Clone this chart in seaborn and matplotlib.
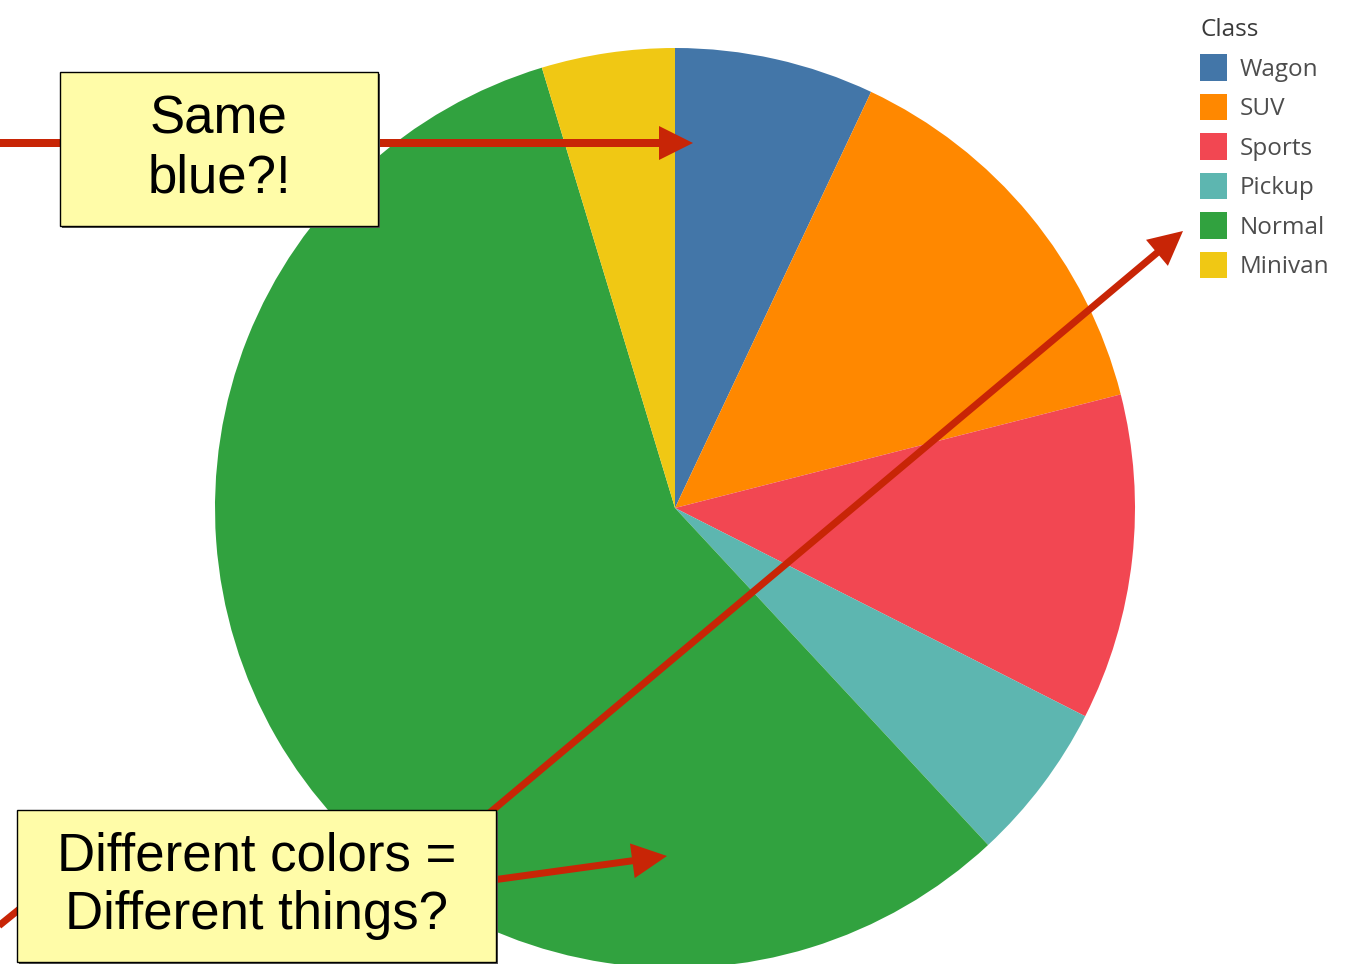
import matplotlib
matplotlib.use("Agg")
import matplotlib.pyplot as plt
from matplotlib.patches import Rectangle
import seaborn as sns

# Vehicle counts by class
classes = ["Wagon", "SUV", "Sports", "Pickup", "Normal", "Minivan"]
counts = [30, 60, 49, 24, 245, 20]
class_colors = ["#4376A8", "#FF8800", "#F24752", "#5DB6B0", "#31A23F", "#F0C814"]

# Callout texts
note_top = "Same\nblue?!"
note_bottom = "Different colors =\nDifferent things?"

sns.set_theme(style="white")
plt.rcParams["font.family"] = ["Liberation Sans", "DejaVu Sans"]

W, H = 1345, 964
fig = plt.figure(figsize=(W / 100, H / 100), dpi=100)
ax = fig.add_axes([0, 0, 1, 1])


def px(x, y):
    """Canvas pixel position (origin top-left) -> data coordinates."""
    return x, H - y


palette = sns.color_palette(class_colors)
cx, cy = px(675, 508)
wedges, _ = ax.pie(
    counts,
    colors=palette,
    startangle=90,
    counterclock=False,
    center=(cx, cy),
    radius=460,
    wedgeprops=dict(linewidth=0),
)
for w in wedges:
    w.set_zorder(1)

ax.set_xlim(0, W)
ax.set_ylim(0, H)
ax.set_aspect("auto")
ax.axis("off")

# Legend
legend_font = {"family": ["Open Sans", "DejaVu Sans"], "size": 17.5}
leg = ax.legend(
    wedges, classes, title="Class",
    loc="upper left", bbox_to_anchor=(1200 / W, 1 - 18 / H),
    frameon=False, borderaxespad=0, borderpad=0,
    handlelength=1.1, handleheight=1.3, handletextpad=0.52,
    labelspacing=0.5, alignment="left",
    prop=legend_font, title_fontproperties=legend_font,
)
for t in leg.get_texts():
    t.set_color("#4d4d4d")
leg.get_title().set_color("#3a3a3a")

red = "#C82506"


def arrow(x0, y0, x1, y1, lw=8, head=34):
    a0, b0 = px(x0, y0)
    a1, b1 = px(x1, y1)
    ax.arrow(a0, b0, a1 - a0, b1 - b0, width=lw, head_width=head,
             head_length=head, length_includes_head=True,
             color=red, linewidth=0, zorder=3)


def line(x0, y0, x1, y1, lw=8):
    a0, b0 = px(x0, y0)
    a1, b1 = px(x1, y1)
    ax.plot([a0, a1], [b0, b1], color=red, lw=lw * 0.72,
            solid_capstyle="butt", zorder=3)


def callout(x0, y0, x1, y1, text):
    a0, b1 = px(x0, y1)
    w, h = x1 - x0, y1 - y0
    ax.add_patch(Rectangle((a0 + 2, b1 - 2), w, h, facecolor="#555555",
                           edgecolor="none", zorder=4))
    ax.add_patch(Rectangle((a0, b1), w, h, facecolor="#FFFCA8",
                           edgecolor="black", linewidth=1.0, zorder=5))
    tx, ty = px((x0 + x1) / 2, (y0 + y1) / 2)
    ax.text(tx, ty, text, ha="center", va="center", fontsize=38,
            linespacing=1.22, color="black", zorder=6)


# Arrows (drawn beneath the callout boxes)
arrow(-10, 143, 693, 143)
arrow(420, 890, 667, 856, lw=7, head=35)
arrow(400, 888, 1183, 231, lw=7)
line(-10, 933, 80, 860, lw=7)

callout(60, 72, 378, 226, note_top)
callout(17, 810, 496, 962, note_bottom)

fig.savefig("out.png", dpi=100)
